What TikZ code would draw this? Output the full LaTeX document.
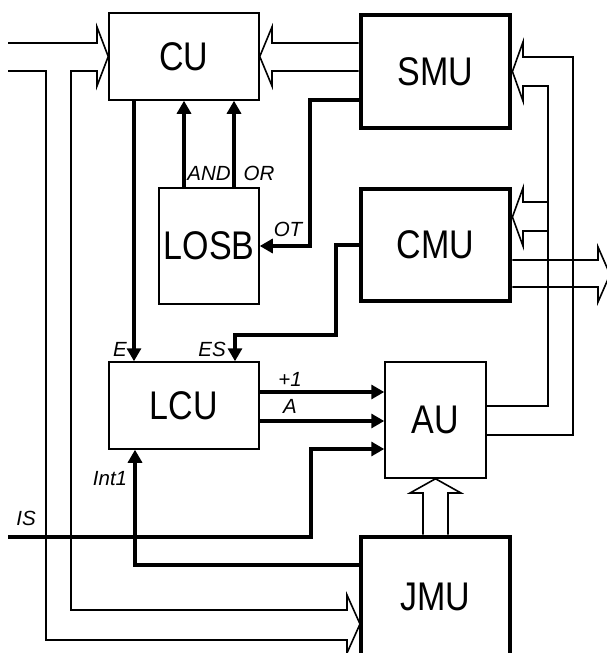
\documentclass[tikz,border=0pt]{standalone}
\usepackage{fontspec}
\setmainfont{Liberation Sans}
\newfontfamily\unitfont[FakeStretch=0.85]{Liberation Sans}
\usetikzlibrary{arrows.meta}

\begin{document}
\begin{tikzpicture}[
    x=1pt, y=-1pt,
    >={Triangle[length=13pt, width=14pt]},
    unit/.style={rectangle, draw=black, line width=1.5pt, inner sep=0pt, font=\unitfont\fontsize{40}{40}\selectfont},
    heavy/.style={unit, line width=4.8pt},
    sig/.style={->, line width=3.2pt},
    bus/.style={line width=1.6pt},
    lbl/.style={inner sep=0pt, font=\itshape\fontsize{20.5}{20.5}\selectfont}
]
\useasboundingbox (0,0) rectangle (607,653);

% units
\node[unit, minimum width=150pt, minimum height=87pt] (cu) at (184,56.5) {CU};
\node[heavy, minimum width=149pt, minimum height=113pt] (smu) at (435.5,71.5) {SMU};
\node[heavy, minimum width=149pt, minimum height=112pt] (cmu) at (435.5,245) {CMU};
\node[unit, minimum width=100pt, minimum height=116pt] (losb) at (209,246) {LOSB};
\node[unit, minimum width=150pt, minimum height=87pt] (lcu) at (184,405.5) {LCU};
\node[unit, minimum width=101pt, minimum height=116pt] (au) at (435.5,420) {AU};
\node[heavy, minimum width=149pt, minimum height=120pt] (jmu) at (435.5,597) {JMU};

% free ends
\coordinate (busin) at (8,43);
\coordinate (isin) at (8,537);

% buses
\draw[bus] (busin) -- (97,43) -- (97,27) -- (cu.west) -- (97,86) -- (97,71) -- (71,71)
    -- (71,610) -- (347,610) -- (347,595) -- (360,624) -- (347,653) -- (347,640)
    -- (46,640) -- (46,71) -- (8,71);
\draw[bus] (smu.west |- 0,43) -- (272,43) -- (272,27) -- (cu.east) -- (272,86) -- (272,71)
    -- (smu.west |- 0,71);
\draw[bus] (au.east |- 0,406) -- (548,406) -- (548,86) -- (523,86) -- (523,101)
    -- (smu.east) -- (523,42) -- (523,57) -- (573,57) -- (573,435) -- (au.east |- 0,435);
\draw[bus] (548,202) -- (523,202) -- (523,188) -- (cmu.east |- 0,217) -- (523,246)
    -- (523,231) -- (548,231);
\draw[bus] (cmu.east |- 0,260) -- (598,260) -- (598,247) -- (610,274.5) -- (598,302)
    -- (598,287) -- (cmu.east |- 0,287);
\draw[bus] (jmu.north -| 423,0) -- (423,493) -- (410,493) -- (au.south) -- (461,493)
    -- (448,493) -- (jmu.north -| 448,0);

% signals
\draw[sig] (cu.south -| 134,0) -- (lcu.north -| 134,0);
\draw[sig] (losb.north -| 184,0) -- (cu.south -| 184,0);
\draw[sig] (losb.north -| 234,0) -- (cu.south -| 234,0);
\draw[sig] (smu.west |- 0,100) -| (310,246) -- (losb.east);
\draw[sig] (cmu.west) -| (336,335) -| (lcu.north -| 235,0);
\draw[sig] (lcu.east |- 0,392) -- (au.west |- 0,392);
\draw[sig] (lcu.east |- 0,421) -- (au.west |- 0,421);
\draw[sig] (isin) -| (311,449) -- (au.west |- 0,449);
\draw[sig] (jmu.west |- 0,565) -| (lcu.south -| 135,0);

% labels
\node[lbl] (andl) at (209,173) {AND};
\node[lbl] (orl) at (259,173) {OR};
\node[lbl] (otl) at (288,229) {OT};
\node[lbl] (el) at (120,349) {E};
\node[lbl] (esl) at (212,349) {ES};
\node[lbl] (incl) at (290,379) {+1};
\node[lbl] (al) at (290,406) {A};
\node[lbl] (intl) at (110,479) {Int1};
\node[lbl] (isl) at (26,518) {IS};

\end{tikzpicture}
\end{document}
